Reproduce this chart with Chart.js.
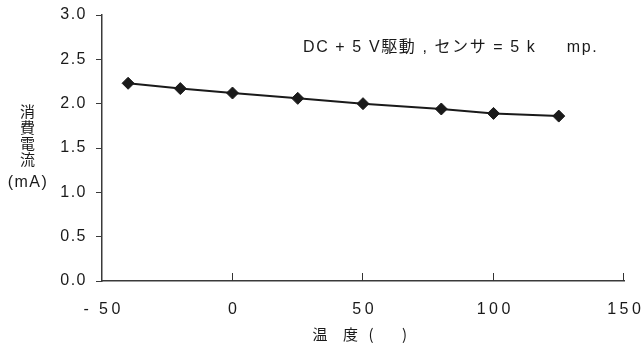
<!DOCTYPE html>
<html><head><meta charset="utf-8">
<script src="https://cdn.jsdelivr.net/npm/chart.js@4/dist/chart.umd.min.js"></script>
<style>html,body{margin:0;padding:0;background:#fff}#w{width:641px;height:346px;position:relative}</style>
</head><body><div id="w"><canvas id="c" width="641" height="346"></canvas></div>
<script>
const temps = [-40, -20, 0, 25, 50, 80, 100, 125];
const current = [2.23, 2.17, 2.12, 2.06, 2.00, 1.94, 1.89, 1.86];
const xTicks = [-50, 0, 50, 100, 150];
const yTicks = [0, 0.5, 1.0, 1.5, 2.0, 2.5, 3.0];
const note = 'DC + 5 V駆動 , センサ = 5 k     mp.';
const yTitle = ['消', '費', '電', '流'];
const yUnit = '(mA)';
const xTitleParts = [['温', 320], ['度', 350.5], ['(', 371], [')', 404.5]];

const LATIN = '"Liberation Sans", Arial, sans-serif';
const CJK = '"Noto Sans CJK JP", sans-serif';

function wrapLabels(scale, spacing, dx){
  if (scale._wrapped) return;
  scale._wrapped = true;
  const orig = scale.drawLabels;
  scale.drawLabels = function(ca){
    const ctx = this.ctx;
    ctx.save();
    ctx.letterSpacing = spacing;
    ctx.translate(dx, 0);
    orig.call(this, ca);
    ctx.restore();
  };
}

const extras = {
  id: 'extras',
  beforeDraw(chart){ chart.ctx.letterSpacing = '0px'; },
  afterDraw(chart){
    const ctx = chart.ctx, x = chart.scales.x, y = chart.scales.y;
    ctx.save();
    ctx.strokeStyle = '#333'; ctx.lineWidth = 1;
    const y0 = y.getPixelForValue(0);
    xTicks.forEach(t => {
      if (t === -50) return;
      const px = Math.round(x.getPixelForValue(t)) - 0.5;
      ctx.beginPath(); ctx.moveTo(px, y0); ctx.lineTo(px, y0 - 8); ctx.stroke();
    });
    ctx.fillStyle = '#1a1a1a';
    ctx.textBaseline = 'middle';
    ctx.letterSpacing = '1.6px';
    ctx.font = '16px "Liberation Sans", Arial, ' + CJK;
    ctx.textAlign = 'left';
    ctx.fillText(note, 303, 48);
    ctx.letterSpacing = '0px';
    ctx.font = '15px ' + CJK;
    ctx.textAlign = 'center';
    yTitle.forEach((c, i) => ctx.fillText(c, 27.5, 111 + i * 16));
    ctx.letterSpacing = '1.5px';
    ctx.font = '16px ' + LATIN;
    ctx.fillText(yUnit, 28, 183);
    ctx.letterSpacing = '0px';
    ctx.font = '15px ' + CJK;
    xTitleParts.forEach(([s, cx]) => ctx.fillText(s, cx, 334));
    ctx.restore();
  }
};

new Chart(document.getElementById('c'), {
  type: 'scatter',
  data: { datasets: [{
    data: temps.map((t, i) => ({x: t, y: current[i]})),
    showLine: true,
    borderColor: '#1a1a1a', borderWidth: 2,
    pointStyle: 'rectRot', pointRadius: 6, pointHoverRadius: 6,
    pointBackgroundColor: '#1a1a1a', pointBorderColor: '#1a1a1a', pointBorderWidth: 1
  }]},
  options: {
    responsive: false, animation: false,
    layout: { padding: { top: 15, right: 0, left: 0, bottom: 0 } },
    plugins: { legend: { display: false }, tooltip: { enabled: false } },
    scales: {
      x: {
        type: 'linear', min: -50, max: 150,
        afterBuildTicks(s){ s.ticks = xTicks.map(v => ({value: v})); },
        afterFit(s){ s.height = 65; s.paddingRight = 17; s.paddingLeft = 0; wrapLabels(s, '3.5px', 1.75); },
        grid: { display: true, drawOnChartArea: false, drawTicks: false, color: 'rgba(0,0,0,0)' },
        border: { display: true, color: '#3a3a3a', width: 1.5 },
        ticks: { padding: 19, color: '#1a1a1a', maxRotation: 0, autoSkip: false,
          font: { family: LATIN, size: 16 },
          callback: v => String(v).replace('-', '-\u2009') }
      },
      y: {
        type: 'linear', min: 0, max: 3,
        afterBuildTicks(s){ s.ticks = yTicks.map(v => ({value: v})); },
        afterFit(s){ s.width = 102; s.paddingTop = 0; s.paddingBottom = 0; wrapLabels(s, '1.5px', 0); },
        grid: { display: true, drawOnChartArea: false, drawTicks: true, tickLength: 6, color: '#3a3a3a', lineWidth: 1 },
        border: { display: true, color: '#3a3a3a', width: 1.5 },
        ticks: { padding: 9, color: '#1a1a1a', autoSkip: false,
          font: { family: LATIN, size: 16 },
          callback: v => Number(v).toFixed(1) }
      }
    }
  },
  plugins: [extras]
});
</script></body></html>
